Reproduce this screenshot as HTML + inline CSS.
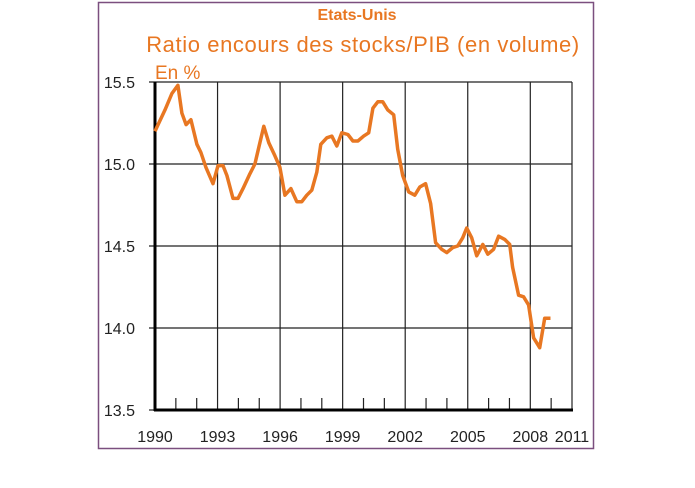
<!DOCTYPE html>
<html><head><meta charset="utf-8"><style>
body{margin:0;background:#fff;width:695px;height:483px;overflow:hidden;font-family:"Liberation Sans",sans-serif}
</style></head><body>
<svg id="chart" width="695" height="483" xmlns="http://www.w3.org/2000/svg">
<rect x="98.5" y="2.5" width="495" height="446" fill="none" stroke="#7b4f7f" stroke-width="1.5"/>
<text x="357" y="20" text-anchor="middle" font-size="16" font-weight="bold" fill="#E87722">Etats-Unis</text>
<text x="363" y="52" text-anchor="middle" font-size="22" letter-spacing="0.6" fill="#E87722">Ratio encours des stocks/PIB (en volume)</text>
<text x="155" y="79" font-size="19" fill="#E87722">En %</text>
<g id="grid"></g><g id="axes"></g><g id="series"></g>
</svg>
<script>
const years=[1990.00,1990.48,1990.81,1991.10,1991.29,1991.49,1991.72,1992.01,1992.20,1992.44,1992.78,1993.02,1993.26,1993.45,1993.74,1993.98,1994.22,1994.55,1994.79,1995.03,1995.22,1995.46,1995.75,1995.99,1996.23,1996.52,1996.80,1997.04,1997.28,1997.52,1997.76,1997.95,1998.24,1998.48,1998.72,1998.96,1999.25,1999.49,1999.73,2000.01,2000.25,2000.45,2000.69,2000.92,2001.16,2001.45,2001.64,2001.88,2002.17,2002.46,2002.70,2002.98,2003.22,2003.46,2003.75,2003.99,2004.28,2004.52,2004.76,2004.95,2005.19,2005.43,2005.72,2005.96,2006.24,2006.48,2006.77,2007.01,2007.15,2007.44,2007.68,2007.92,2008.16,2008.45,2008.69,2008.97];
const ratio=[15.20,15.33,15.43,15.48,15.31,15.24,15.27,15.12,15.07,14.98,14.88,14.99,14.99,14.93,14.79,14.79,14.85,14.94,15.00,15.13,15.23,15.13,15.05,14.98,14.81,14.85,14.77,14.77,14.81,14.84,14.95,15.12,15.16,15.17,15.11,15.19,15.18,15.14,15.14,15.17,15.19,15.34,15.38,15.38,15.33,15.30,15.09,14.93,14.83,14.81,14.86,14.88,14.76,14.52,14.48,14.46,14.49,14.50,14.55,14.61,14.55,14.44,14.51,14.45,14.48,14.56,14.54,14.51,14.37,14.20,14.19,14.14,13.94,13.88,14.06,14.06];
const yTicks=[13.5,14.0,14.5,15.0,15.5];
const yTickLabels=["13.5","14.0","14.5","15.0","15.5"];
const xGridYears=[1993,1996,1999,2002,2005,2008,2010];
const xTickLabels=["1990","1993","1996","1999","2002","2005","2008","2011"];
const xMinorYears=[1991,1992,1994,1995,1997,1998,2000,2001,2003,2004,2006,2007,2009];
const X0=155,X1=572,Y0=410,Y1=82;
const xs=y=>X0+(y-1990)/(2010-1990)*(X1-X0);
const ys=v=>Y0-(v-13.5)/(15.5-13.5)*(Y0-Y1);
const NS="http://www.w3.org/2000/svg";
function mk(tag,attrs,parent){const e=document.createElementNS(NS,tag);for(const k in attrs)e.setAttribute(k,attrs[k]);parent.appendChild(e);return e;}
const grid=document.getElementById('grid'),axes=document.getElementById('axes'),series=document.getElementById('series');
yTicks.forEach((v,i)=>{
  if(v>13.5){const l=mk('line',{x1:X0-6,x2:X1,y1:ys(v),y2:ys(v),stroke:'#222','stroke-width':1.2},grid);
  
  }
  else{const l=mk('line',{x1:X0-6,x2:X0,y1:ys(v),y2:ys(v),stroke:'#222','stroke-width':1.2},grid);
  
  }
  const t=mk('text',{x:X0-20,y:ys(v)+6,'text-anchor':'end','font-size':16,fill:'#222'},axes);
  t.textContent=yTickLabels[i];
  
  
});
xGridYears.forEach(y=>{
  const l=mk('line',{x1:xs(y),x2:xs(y),y1:Y1,y2:Y0,stroke:'#222','stroke-width':1.2},grid);
  
  
});
xMinorYears.forEach(y=>{
  const l=mk('line',{x1:xs(y),x2:xs(y),y1:Y0-12,y2:Y0,stroke:'#222','stroke-width':1.2},grid);
  
  
});
const labelYears=[1990,1993,1996,1999,2002,2005,2008,2010];
xTickLabels.forEach((s,i)=>{
  const t=mk('text',{x:xs(labelYears[i]),y:442,'text-anchor':'middle','font-size':16,fill:'#222'},axes);
  t.textContent=s;
  
  
});
const xa=mk('line',{x1:X0-1,x2:X1+1,y1:Y0,y2:Y0,stroke:'#000','stroke-width':3},axes);


const ya=mk('line',{x1:X0,x2:X0,y1:Y1,y2:Y0+1,stroke:'#000','stroke-width':3},axes);


const pts=years.map((y,i)=>xs(y).toFixed(1)+','+ys(ratio[i]).toFixed(1)).join(' ');
const pl=mk('polyline',{points:pts,fill:'none',stroke:'#E87722','stroke-width':3.5,'stroke-linejoin':'round'},series);


</script>
</body></html>
